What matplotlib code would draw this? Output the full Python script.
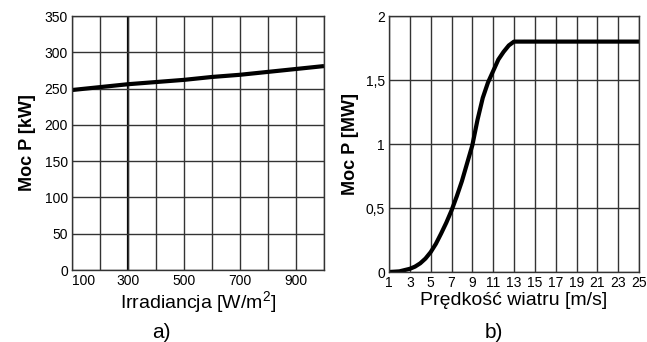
import matplotlib
matplotlib.use("Agg")
import matplotlib.pyplot as plt

plt.rcParams['font.family'] = ['Liberation Sans', 'DejaVu Sans']
plt.rcParams['mathtext.fontset'] = 'custom'
plt.rcParams['mathtext.rm'] = 'Liberation Sans'

# a) PV power vs irradiance
irr = [100, 200, 300, 400, 500, 600, 700, 800, 900, 1000]
p_pv = [248, 252, 256, 259, 262, 266, 269, 273, 277, 281]

# b) wind turbine power curve
wind = [1, 2, 3, 3.5, 4, 4.5, 5, 5.5, 6, 6.5, 7, 7.5, 8, 8.5, 9, 9.5, 10, 10.5,
        11, 11.5, 12, 12.5, 13, 15, 17, 19, 21, 23, 25]
p_wind = [0, 0.005, 0.025, 0.042, 0.068, 0.105, 0.155, 0.22, 0.30, 0.385, 0.48,
          0.59, 0.71, 0.85, 0.99, 1.19, 1.36, 1.48, 1.57, 1.66, 1.72, 1.77, 1.80,
          1.80, 1.80, 1.80, 1.80, 1.80, 1.80]

grid_col = '#333333'

fig = plt.figure(figsize=(6.47, 3.42), dpi=100)
ax1 = fig.add_axes([72/647, 1-270/342, 252/647, 254/342])
ax2 = fig.add_axes([389/647, 1-272/342, 250/647, 256/342])


def style(ax):
    ax.grid(True, color=grid_col, linewidth=1.0)
    ax.set_axisbelow(True)
    for s in ax.spines.values():
        s.set_color(grid_col)
        s.set_linewidth(1.0)
    ax.tick_params(length=0, labelsize=10, pad=3)


# panel a
ax1.plot(irr, p_pv, color='black', linewidth=3, solid_capstyle='butt',
         solid_joinstyle='round')
ax1.set_xlim(100, 1000)
ax1.set_ylim(0, 350)
ax1.set_xticks(range(100, 1001, 100))
ax1.set_xticklabels(['100', '', '300', '', '500', '', '700', '', '900', ''])
ax1.set_yticks(range(0, 351, 50))
style(ax1)
ax1.axvline(300, color='black', linewidth=1.6, zorder=0.5)
ax1.get_xticklabels()[0].set_horizontalalignment('left')
ax1.set_xlabel(r'Irradiancja [W/m$\mathregular{^2}$]', fontsize=14, labelpad=1)
ax1.set_ylabel('Moc P [kW]', fontsize=13, fontweight='bold', labelpad=6)
fig.text(161/647, 1-332/342, 'a)', fontsize=15, ha='center', va='center')

# panel b
ax2.plot(wind, p_wind, color='black', linewidth=3, solid_capstyle='butt',
         solid_joinstyle='round')
ax2.set_xlim(1, 25)
ax2.set_ylim(0, 2)
ax2.set_xticks(range(1, 26, 2))
ax2.set_yticks([0, 0.5, 1, 1.5, 2])
ax2.set_yticklabels(['0', '0,5', '1', '1,5', '2'])
style(ax2)
ax2.set_xlabel('Prędkość wiatru [m/s]', fontsize=14, labelpad=1)
ax2.set_ylabel('Moc P [MW]', fontsize=13, fontweight='bold', labelpad=5)
fig.text(494/647, 1-332/342, 'b)', fontsize=15, ha='center', va='center')

fig.savefig('out.png', dpi=100, facecolor='white')
